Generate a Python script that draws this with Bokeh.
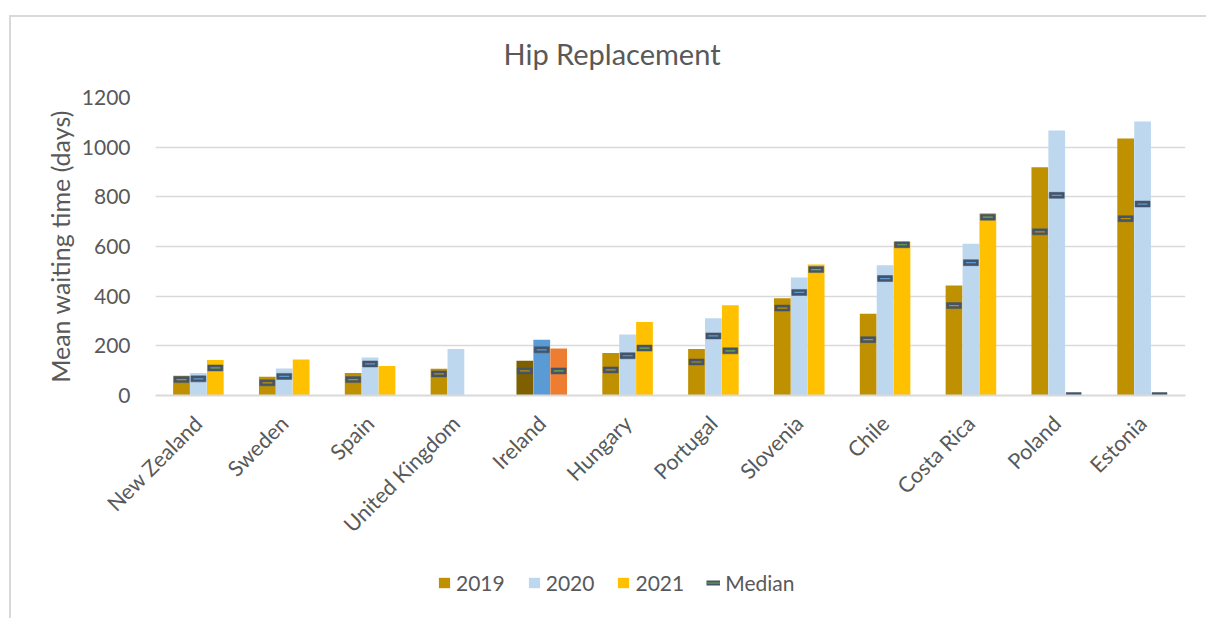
import math
from bokeh.plotting import figure
from bokeh.layouts import column
from bokeh.models import Range1d, FactorRange, Legend, LegendItem, ColumnDataSource, FixedTicker, Title
from bokeh.transform import dodge
from bokeh.embed import file_html
from bokeh.resources import INLINE

nan = float("nan")

countries = ["New Zealand", "Sweden", "Spain", "United Kingdom", "Ireland", "Hungary",
             "Portugal", "Slovenia", "Chile", "Costa Rica", "Poland", "Estonia"]
mean_2019 = [80, 76, 91, 108, 140, 171, 187, 392, 329, 443, 919, 1035]
mean_2020 = [91, 109, 153, 187, 224, 246, 311, 475, 524, 611, 1067, 1103]
mean_2021 = [143, 145, 119, nan, 189, 296, 363, 528, 619, 734, nan, nan]
median_2019 = [64, 51, 64, 87, 99, 103, 135, 352, 225, 362, 659, 712]
median_2020 = [67, 77, 127, nan, 184, 160, 240, 415, 471, 535, 806, 771]
median_2021 = [111, nan, nan, nan, 99, 191, 180, 507, 607, 718, 0, 0]
y_ticks = [0, 200, 400, 600, 800, 1000, 1200]
series_labels = ["2019", "2020", "2021", "Median"]

FONT = "Lato"
GREY = "#595959"
C19, C20, C21 = "#bf9000", "#bdd7ee", "#ffc000"
col_2019 = ["#7f6000" if c == "Ireland" else C19 for c in countries]
col_2020 = ["#5b9bd5" if c == "Ireland" else C20 for c in countries]
col_2021 = ["#ed7d31" if c == "Ireland" else C21 for c in countries]

src = ColumnDataSource(dict(country=countries,
                            m19=mean_2019, m20=mean_2020, m21=mean_2021,
                            d19=median_2019, d20=median_2020, d21=median_2021,
                            c19=col_2019, c20=col_2020, c21=col_2021))

W = 1195
p = figure(width=W, height=532, x_range=FactorRange(*countries, range_padding=0),
           y_range=Range1d(0, 1200), output_backend="svg", toolbar_location=None,
           min_border_left=144, min_border_right=21, min_border_top=80, min_border_bottom=153)
p.outline_line_color = None

off = 0.197
bw = 0.195
p.vbar(x=dodge("country", -off, range=p.x_range), top="m19", width=bw, source=src,
       fill_color="c19", line_color=None)
p.vbar(x=dodge("country", 0, range=p.x_range), top="m20", width=bw, source=src,
       fill_color="c20", line_color=None)
p.vbar(x=dodge("country", off, range=p.x_range), top="m21", width=bw, source=src,
       fill_color="c21", line_color=None)

inner = {"d19": "#bf9000", "d20": "#5b9bd5", "d21": "#70ad47"}
for fld, o in (("d19", -off), ("d20", 0), ("d21", off)):
    p.rect(x=dodge("country", o, range=p.x_range), y=fld, width=15, height=6,
           width_units="screen", height_units="screen", source=src,
           fill_color="#44546a", line_color="#44546a", line_width=0.5)
    p.rect(x=dodge("country", o, range=p.x_range), y=fld, width=10, height=1.2,
           width_units="screen", height_units="screen", source=src,
           fill_color=inner[fld], line_color=None)

p.yaxis.ticker = FixedTicker(ticks=y_ticks)
p.yaxis.axis_line_color = None
p.yaxis.major_tick_line_color = None
p.yaxis.minor_tick_line_color = None
p.yaxis.major_label_text_font = FONT
p.yaxis.major_label_text_font_size = "21px"
p.yaxis.major_label_text_color = GREY
p.yaxis.major_label_standoff = 19
p.yaxis.axis_label = "Mean waiting time (days)"
p.yaxis.axis_label_text_font = FONT
p.yaxis.axis_label_text_font_size = "25px"
p.yaxis.axis_label_text_font_style = "normal"
p.yaxis.axis_label_text_color = GREY
p.yaxis.axis_label_standoff = 4

p.xaxis.axis_line_color = "#d9d9d9"
p.xaxis.axis_line_width = 2
p.xaxis.major_tick_line_color = None
p.xaxis.minor_tick_line_color = None
p.xaxis.major_label_orientation = math.pi / 4
p.xaxis.major_label_text_font = FONT
p.xaxis.major_label_text_font_size = "21.5px"
p.xaxis.major_label_text_color = GREY
p.xaxis.major_label_standoff = 18

p.xgrid.grid_line_color = None
p.ygrid.grid_line_color = "#d9d9d9"
p.ygrid.grid_line_width = 1.5

p.add_layout(Title(text="Hip Replacement", align="left", offset=348, text_font=FONT,
                   text_font_size="29px", text_font_style="normal", text_color=GREY,
                   padding=dict(left=0, right=0, top=0, bottom=22)), "above")

# legend-only strip (frame aligned with the chart frame by the column layout)
lf = figure(width=W, height=69, output_backend="svg", toolbar_location=None,
            x_range=Range1d(0, 1), y_range=Range1d(0, 1),
            x_axis_location=None, y_axis_location=None,
            min_border_left=0, min_border_right=0, min_border_top=0, min_border_bottom=0)
lf.outline_line_color = None
lf.xgrid.grid_line_color = None
lf.ygrid.grid_line_color = None
g19 = lf.vbar(x=[0.5], top=[-5], bottom=[-6], width=0.1, fill_color=C19, line_color=None)
g20 = lf.vbar(x=[0.5], top=[-5], bottom=[-6], width=0.1, fill_color=C20, line_color=None)
g21 = lf.vbar(x=[0.5], top=[-5], bottom=[-6], width=0.1, fill_color=C21, line_color=None)
ma = lf.line(x=[0.4, 0.6], y=[-5, -5], line_color="#44546a", line_width=5)
mb = lf.line(x=[0.4, 0.6], y=[-5, -5], line_color="#70ad47", line_width=1)
legend = Legend(items=[LegendItem(label=series_labels[0], renderers=[g19]),
                       LegendItem(label=series_labels[1], renderers=[g20]),
                       LegendItem(label=series_labels[2], renderers=[g21]),
                       LegendItem(label=series_labels[3], renderers=[ma, mb])],
                orientation="horizontal", location=(282, 23),
                border_line_color=None, background_fill_alpha=0,
                label_text_font=FONT, label_text_font_size="21px", label_text_color=GREY,
                glyph_width=14, glyph_height=13, spacing=22, padding=0, margin=0,
                label_standoff=5)
lf.add_layout(legend, "center")

layout = column(p, lf, spacing=0)
layout.margin = (15, 0, 0, 9)
layout.styles = {"border-top": "2px solid #d9d9d9", "border-left": "2px solid #d9d9d9"}

html = file_html(layout, INLINE)
html = html.replace("<body>", "<body style=\"margin:0\">")
open("out.html", "w").write(html)
